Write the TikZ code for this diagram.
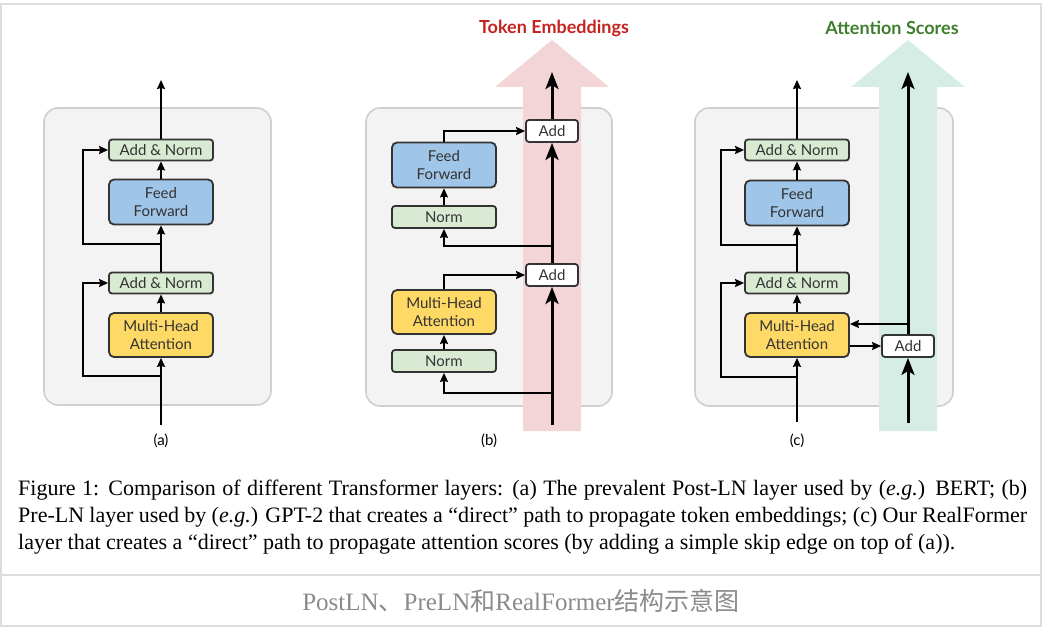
\documentclass[tikz,border=0pt]{standalone}
\usepackage{fontspec}
\setmainfont{Liberation Serif}
\newfontfamily\boxfont{Lato}
\newfontfamily\cjkfont{Noto Sans CJK SC}
\usetikzlibrary{arrows.meta}
\definecolor{panelgray}{HTML}{F3F3F3}
\definecolor{panelline}{HTML}{CFCFCF}
\definecolor{normgreen}{HTML}{D9EAD3}
\definecolor{ffblue}{HTML}{9FC5E8}
\definecolor{mhayellow}{HTML}{FFD966}
\definecolor{boxline}{HTML}{333333}
\definecolor{tokred}{HTML}{C5221F}
\definecolor{tokpink}{HTML}{F4D5D7}
\definecolor{attgreen}{HTML}{3E7E2E}
\definecolor{attmint}{HTML}{D5EDE4}
\definecolor{framegray}{HTML}{DDDDDD}
\definecolor{capgray}{HTML}{8A8A8A}
\tikzset{every node/.style={font=\boxfont\fontsize{15}{17.5}\selectfont, text=boxline, inner sep=0pt},
  panel/.style={draw=panelline, fill=panelgray, line width=1.6pt, rounded corners=14pt},
  layer/.style={draw=boxline, line width=1.8pt, rounded corners=3pt, minimum width=104pt, align=center},
  addnorm/.style={layer, fill=normgreen, minimum height=21pt},
  normbox/.style={layer, fill=normgreen, minimum height=22pt},
  ffbox/.style={layer, fill=ffblue, minimum height=45pt, rounded corners=5pt},
  mhabox/.style={layer, fill=mhayellow, minimum height=44pt, rounded corners=5pt},
  addbox/.style={layer, fill=white, minimum width=52pt, minimum height=22pt},
  conn/.style={black, line width=1.5pt, -{Stealth[length=9pt, width=8pt, inset=1pt]}},
  mainconn/.style={black, line width=3pt, -{Stealth[length=17pt, width=13pt, inset=4pt]}},
  headline/.style={font=\boxfont\bfseries\fontsize{18}{20}\selectfont},
  captext/.style={font=\rmfamily\fontsize{22}{26}\selectfont, text=black, anchor=west},
  sublabel/.style={font=\boxfont\fontsize{15}{17}\selectfont, text=black}}

\begin{document}
\begin{tikzpicture}[x=1pt,y=-1pt]
   \useasboundingbox (0,0) rectangle (1050,634);
   \draw[framegray,line width=2pt] (1,4) rectangle (1041,626);
   \draw[framegray,line width=2pt] (1,575) -- (1041,575);

   \begin{scope}[xshift=161pt]
    \draw[panel] (-117,108) rectangle (110,405);
    \node[addnorm] (a-an2) at (0,150) {Add \& Norm};
    \node[ffbox] (a-ff) at (0,202) {Feed\\Forward};
    \node[addnorm] (a-an1) at (0,283) {Add \& Norm};
    \node[mhabox] (a-mha) at (0,335) {Multi-Head\\Attention};
    \coordinate (a-in) at (0,425);
    \coordinate (a-out) at (0,80);
    \coordinate (a-split1) at (0,376);
    \coordinate (a-split2) at (0,244);
    \draw[conn] (a-in) -- (a-mha);
    \draw[conn] (a-mha) -- (a-an1);
    \draw[conn] (a-an1) -- (a-ff);
    \draw[conn] (a-ff) -- (a-an2);
    \draw[conn] (a-an2) -- (a-out);
    \draw[conn] (a-split1) -- (-78,376) |- (a-an1);
    \draw[conn] (a-split2) -- (-78,244) |- (a-an2);
    \node[sublabel] (a-label) at (0,441) {(a)};
   \end{scope}

   \begin{scope}[xshift=444pt]
    \draw[panel] (-78,108) rectangle (168,406);
    \fill[tokpink] (79,431) -- (79,87) -- (51,87) -- (108,40) -- (165,87) -- (137,87) -- (137,431) -- cycle;
    \node[headline, text=tokred] (b-title) at (110,28) {Token Embeddings};
    \node[addbox] (b-add2) at (108,131) {Add};
    \node[addbox] (b-add1) at (108,275) {Add};
    \node[ffbox] (b-ff) at (0,165) {Feed\\Forward};
    \node[normbox] (b-norm2) at (0,217) {Norm};
    \node[mhabox] (b-mha) at (0,312) {Multi-Head\\Attention};
    \node[normbox] (b-norm1) at (0,361) {Norm};
    \coordinate (b-in) at (108,425);
    \coordinate (b-out) at (108,72);
    \coordinate (b-split1) at (108,393);
    \coordinate (b-split2) at (108,246);
    \draw[mainconn] (b-in) -- (b-add1);
    \draw[mainconn] (b-add1) -- (b-add2);
    \draw[mainconn] (b-add2) -- (b-out);
    \draw[conn] (b-split1) -| (b-norm1);
    \draw[conn] (b-norm1) -- (b-mha);
    \draw[conn] (b-mha) |- (b-add1);
    \draw[conn] (b-split2) -| (b-norm2);
    \draw[conn] (b-norm2) -- (b-ff);
    \draw[conn] (b-ff) |- (b-add2);
    \node[sublabel] (b-label) at (45,441) {(b)};
   \end{scope}

   \begin{scope}[xshift=797pt]
    \draw[panel] (-102,108) rectangle (156,406);
    \fill[attmint] (82,431) -- (82,87) -- (54,87) -- (111,40) -- (168,87) -- (140,87) -- (140,431) -- cycle;
    \node[headline, text=attgreen] (c-title) at (95,28) {Attention Scores};
    \node[addnorm] (c-an2) at (0,150) {Add \& Norm};
    \node[ffbox] (c-ff) at (0,203) {Feed\\Forward};
    \node[addnorm] (c-an1) at (0,283) {Add \& Norm};
    \node[mhabox] (c-mha) at (0,335) {Multi-Head\\Attention};
    \node[addbox] (c-add) at (111,346) {Add};
    \coordinate (c-in) at (0,422);
    \coordinate (c-out) at (0,80);
    \coordinate (c-main-in) at (111,423);
    \coordinate (c-main-out) at (111,72);
    \coordinate (c-split1) at (0,377);
    \coordinate (c-split2) at (0,245);
    \coordinate (c-score) at (111,324);
    \draw[conn] (c-in) -- (c-mha);
    \draw[conn] (c-mha) -- (c-an1);
    \draw[conn] (c-an1) -- (c-ff);
    \draw[conn] (c-ff) -- (c-an2);
    \draw[conn] (c-an2) -- (c-out);
    \draw[conn] (c-split1) -- (-76,377) |- (c-an1);
    \draw[conn] (c-split2) -- (-76,245) |- (c-an2);
    \draw[mainconn] (c-main-in) -- (c-add);
    \draw[mainconn] (c-add) -- (c-main-out);
    \draw[conn] (c-score) -- (c-mha.east |- c-score);
    \draw[conn] (c-mha.east |- c-add) -- (c-add);
    \node[sublabel] (c-label) at (0,441) {(c)};
   \end{scope}

   \node[captext] (cap1) at (18,490) {\makebox[1009pt][s]{Figure 1: Comparison of different Transformer layers: (a) The prevalent Post-LN layer used by (\textit{e.g.}) BERT; (b)}};
   \node[captext] (cap2) at (18,517) {\makebox[1009pt][s]{Pre-LN layer used by (\textit{e.g.}) GPT-2 that creates a “direct” path to propagate token embeddings; (c) Our RealFormer}};
   \node[captext] (cap3) at (18,544) {layer that creates a “direct” path to propagate attention scores (by adding a simple skip edge on top of (a)).};
   \node[font=\rmfamily\fontsize{25}{29}\selectfont, text=capgray] (subcap) at (521,601) {PostLN{\cjkfont 、}PreLN{\cjkfont 和}RealFormer{\cjkfont 结构示意图}};
\end{tikzpicture}
\end{document}
